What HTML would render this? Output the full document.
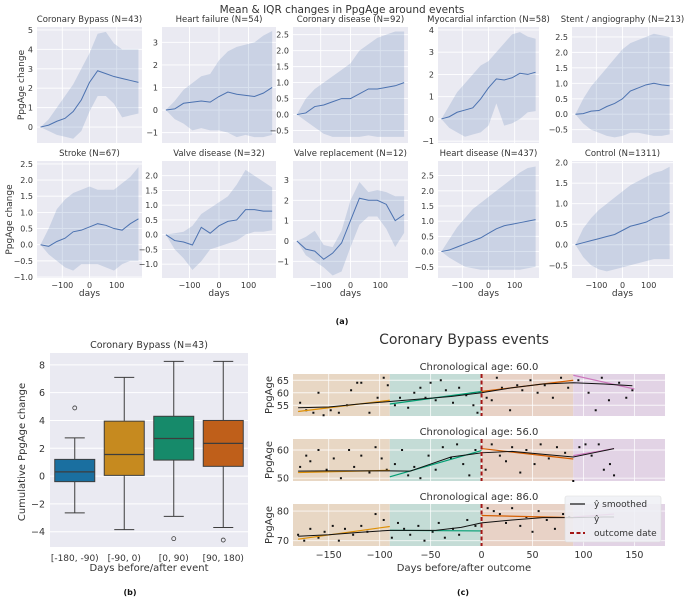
<!DOCTYPE html>
<html><head><meta charset="utf-8"><style>
html,body{margin:0;padding:0;background:#fff;}
svg{display:block;font-family:"DejaVu Sans","Liberation Sans",sans-serif;}
</style></head><body>
<svg id="fig" width="685" height="598" viewBox="0 0 685 598" xmlns="http://www.w3.org/2000/svg"></svg>
<script>
// ---------- Panel (a) data ----------
const days = [-180,-150,-120,-90,-60,-30,0,30,60,90,120,150,180];
const titles = ["Coronary Bypass (N=43)","Heart failure (N=54)","Coronary disease (N=92)","Myocardial infarction (N=58)","Stent / angiography (N=213)","Stroke (N=67)","Valve disease (N=32)","Valve replacement (N=12)","Heart disease (N=437)","Control (N=1311)"];
const means = [
[0,0.1,0.3,0.45,0.8,1.4,2.3,2.9,2.75,2.6,2.5,2.4,2.3],
[0,0.05,0.3,0.35,0.4,0.35,0.6,0.8,0.7,0.65,0.6,0.75,1.0],
[0,0.05,0.25,0.3,0.4,0.5,0.5,0.65,0.8,0.8,0.85,0.9,1.0],
[0,0.1,0.3,0.4,0.5,0.9,1.4,1.8,1.75,1.85,2.05,2.0,2.1],
[0,0.02,0.1,0.12,0.25,0.35,0.5,0.75,0.85,0.95,1.0,0.95,0.92],
[0,-0.05,0.1,0.2,0.4,0.45,0.55,0.65,0.6,0.5,0.45,0.65,0.8],
[0,-0.2,-0.25,-0.35,0.25,0.05,0.3,0.45,0.5,0.85,0.85,0.8,0.8],
[0,-0.4,-0.5,-0.9,-0.6,-0.1,1.0,2.1,2.0,2.0,1.8,1.0,1.3],
[0,0.05,0.15,0.25,0.35,0.45,0.6,0.75,0.85,0.9,0.95,1.0,1.05],
[0,0.05,0.1,0.15,0.2,0.25,0.35,0.45,0.5,0.55,0.65,0.7,0.8]];
const uppers = [
[0,0.4,1.0,1.6,2.2,3.0,3.8,4.8,4.9,4.3,4.0,4.0,4.0],
[0,0.4,0.9,1.2,1.5,1.6,2.2,2.6,2.8,2.9,3.0,3.3,3.5],
[0,0.5,0.8,1.0,1.2,1.4,1.6,2.0,2.2,2.4,2.5,2.6,2.6],
[0,0.6,1.2,1.6,2.0,2.4,2.6,3.0,3.4,3.8,3.9,3.7,3.6],
[0,0.5,0.9,1.2,1.5,1.8,2.1,2.3,2.4,2.5,2.6,2.55,2.5],
[0,0.5,1.1,1.4,1.6,1.7,1.8,1.7,1.7,1.7,1.9,2.1,2.4],
[0,0.05,0.1,0.3,0.7,0.9,1.1,1.3,1.7,2.2,2.0,1.8,1.6],
[0,0.2,0.5,-0.2,-0.3,0.5,2.0,2.9,2.4,2.5,2.4,2.2,2.2],
[0,0.4,0.8,1.1,1.4,1.6,1.8,2.0,2.2,2.4,2.6,2.75,2.8],
[0,0.4,0.65,0.85,1.0,1.15,1.3,1.45,1.55,1.65,1.75,1.8,1.9]];
const lowers = [
[0,-0.2,-0.4,-0.5,-0.6,-0.2,0.8,1.6,1.6,1.2,0.5,0.6,0.7],
[0,-0.4,-0.6,-0.9,-0.8,-0.9,-0.9,-1.0,-1.2,-1.1,-1.2,-1.2,-1.1],
[0,-0.2,-0.4,-0.6,-0.7,-0.7,-0.7,-0.7,-0.65,-0.7,-0.7,-0.7,-0.7],
[0,-0.4,-0.6,-0.8,-0.7,-0.6,-0.3,0.7,-0.3,-0.2,0.0,0.3,0.35],
[0,-0.3,-0.5,-0.6,-0.7,-0.75,-0.7,-0.6,-0.6,-0.65,-0.7,-0.7,-0.65],
[0,-0.3,-0.5,-0.7,-0.8,-0.6,-0.6,-0.6,-0.7,-0.8,-0.6,-0.5,-0.5],
[0,-0.5,-0.8,-1.2,-0.9,-0.5,-0.4,-0.3,-0.2,0.0,0.1,0.1,0.15],
[0,-0.7,-1.0,-1.3,-1.7,-1.5,-0.3,0.8,1.2,1.2,0.6,-0.3,0.4],
[0,-0.2,-0.35,-0.5,-0.55,-0.6,-0.6,-0.6,-0.6,-0.6,-0.6,-0.55,-0.5],
[0,-0.3,-0.5,-0.6,-0.65,-0.6,-0.55,-0.5,-0.45,-0.4,-0.35,-0.35,-0.35]];
const yticksA = [
[0,1,2,3,4,5],[-1,0,1,2,3],[-0.5,0,0.5,1,1.5,2,2.5],[-1,0,1,2,3,4],[-0.5,0,0.5,1,1.5,2,2.5],
[-1,-0.5,0,0.5,1,1.5,2,2.5],[-1,-0.5,0,0.5,1,1.5,2],[-1,0,1,2,3],[-0.5,0,0.5,1,1.5,2,2.5],[-0.5,0,0.5,1,1.5,2]];
const ytickLabelsA = [
["0","1","2","3","4","5"],["−1","0","1","2","3"],["−0.5","0.0","0.5","1.0","1.5","2.0","2.5"],["−1","0","1","2","3","4"],["−0.5","0.0","0.5","1.0","1.5","2.0","2.5"],
["−1.0","−0.5","0.0","0.5","1.0","1.5","2.0","2.5"],["−1.0","−0.5","0.0","0.5","1.0","1.5","2.0"],["−1","0","1","2","3"],["−0.5","0.0","0.5","1.0","1.5","2.0","2.5"],["−0.5","0.0","0.5","1.0","1.5","2.0"]];
const ylimsA = [[-0.82,5.15],[-1.46,3.68],[-0.89,2.74],[-1.08,4.13],[-0.93,2.82],[-1.03,2.59],[-1.47,2.5],[-1.82,3.93],[-0.87,2.98],[-0.81,2.04]];
const xticksA = [-100,0,100];
const xtickLabelsA = ["−100","0","100"];

// ---------- Panel (b) data ----------
const boxCats = ["[-180, -90)","[-90, 0)","[0, 90)","[90, 180)"];
const boxQ1 = [-0.4,0.05,1.15,0.7];
const boxMed = [0.3,1.55,2.7,2.35];
const boxQ3 = [1.2,3.95,4.3,4.0];
const boxLo = [-2.65,-3.85,-2.9,-3.7];
const boxHi = [2.75,7.1,8.25,8.25];
const boxOut = [[4.9],[],[-4.5],[-4.6]];
const yticksB = [-4,-2,0,2,4,6,8];
const ytickLabelsB = ["−4","−2","0","2","4","6","8"];

// ---------- Panel (c) data ----------
const subAges = ["60.0","56.0","86.0"];
const smoothDays = [
[-180,-150,-120,-90,-60,-30,0,30,60,90,120,148],
[-180,-150,-120,-90,-70,-50,-30,-10,0,30,60,90,110,130],
[-180,-150,-120,-90,-60,-45,-20,0,30,60,90,120,130]];
const smoothVals = [
[54,54.3,55.5,56.5,57.5,58.5,60,62,63.5,64,63.5,62.8],
[52.5,52.6,52.6,52.6,52.5,55,57.5,58.5,59,59.5,58.5,57.5,59,60.5],
[71.5,72,72.8,73.5,73.5,73.5,74.5,76,77,77.8,77.8,78,78]];
const segStart = [[-180,-90,0,90],[-180,-90,0,90],[-180,-90,0,90]];
const segEnd = [[-90,0,90,150],[-90,0,90,130],[-90,0,90,130]];
const segV0 = [[52.5,55.5,60.5,67],[52,50.5,60.5,58],[70.5,73.5,78.5,78]];
const segV1 = [[57,60.5,65,61.5],[52.8,59.8,56.8,60.5],[74.8,73.3,77.8,79]];
const scatter = [
[[-178,56],[-172,53],[-165,52],[-160,60],[-155,51],[-148,53],[-140,52],[-132,55],[-128,61],[-122,64],[-118,64],[-110,52],[-102,58],[-96,66],[-92,63],[-85,55],[-80,58],[-72,54],[-66,60],[-60,62],[-55,58],[-50,64],[-45,57],[-40,65],[-35,61],[-28,56],[-22,62],[-15,59],[-8,55],[-4,52],[5,58],[10,57],[15,66],[20,62],[28,53],[35,63],[40,61],[48,65],[55,60],[62,63],[70,58],[78,66],[85,62],[95,65],[105,60],[112,53],[118,66],[125,57],[135,64],[142,58],[148,61]],
[[-178,54],[-172,58],[-168,56],[-160,60],[-152,53],[-145,57],[-138,50],[-130,60],[-125,54],[-118,58],[-110,52],[-104,61],[-98,57],[-93,53],[-85,55],[-78,60],[-72,51],[-66,54],[-60,50],[-52,58],[-45,53],[-38,61],[-30,57],[-24,62],[-18,55],[-12,51],[-6,60],[4,53],[10,62],[18,58],[24,56],[30,61],[38,52],[44,60],[52,55],[58,62],[66,57],[74,61],[82,59],[90,49],[96,61],[102,62],[108,58],[115,62],[120,53],[126,55],[130,51]],
[[-180,72],[-174,70],[-168,74],[-160,71],[-154,73],[-146,75],[-140,70],[-134,74],[-126,72],[-118,75],[-112,73],[-104,79],[-96,77],[-88,71],[-82,76],[-76,74],[-70,72],[-62,75],[-56,70],[-48,73],[-42,76],[-36,71],[-28,74],[-22,72],[-14,77],[-6,75],[6,81],[12,80],[18,79],[24,76],[30,81],[38,75],[44,78],[50,73],[56,80],[64,77],[72,74],[80,79],[86,78]]];
const yticksC = [[55,60,65],[50,60],[70,80]];
const ylimsC = [[50.7,67.5],[49,63.9],[68.2,82.4]];
const xticksC = [-150,-100,-50,0,50,100,150];
const xtickLabelsC = ["−150","−100","−50","0","50","100","150"];

// ---------- drawing ----------
const NS = "http://www.w3.org/2000/svg";
const svg = document.getElementById('fig');
function mk(tag, attrs, parent, text){
  const e = document.createElementNS(NS, tag);
  for (const k in attrs) e.setAttribute(k, attrs[k]);
  if (text !== undefined) e.textContent = text;
  (parent || svg).appendChild(e);
  return e;
}
function lin(d0,d1,p0,p1){ return v => p0 + (v-d0)/(d1-d0)*(p1-p0); }

let t = mk('text',{x:342,y:13,'text-anchor':'middle','font-size':10.5,fill:'#333'},svg,"Mean & IQR changes in PpgAge around events");



const colX = [[37,142],[162,276],[293,408],[438,539],[572,673]];
const rowY = [[27,143],[161,278]];
for (let i=0;i<10;i++){
  const r = Math.floor(i/5), c = i%5;
  const [x0,x1] = colX[c], [y0,y1] = rowY[r];
  const sx = lin(-193,193,x0,x1), sy = lin(ylimsA[i][0],ylimsA[i][1],y1,y0);
  const g = mk('g',{});
  
  
  const bg = mk('rect',{x:x0,y:y0,width:x1-x0,height:y1-y0,fill:'#eaeaf2'},g);
  
  
  yticksA[i].forEach((v,j)=>{
    const y = sy(v);
    mk('line',{x1:x0,x2:x1,y1:y,y2:y,stroke:'#fff','stroke-width':0.9},g);
    const tl = mk('text',{x:x0-4,y:y+3,'text-anchor':'end','font-size':8,fill:'#333'},g,ytickLabelsA[i][j]);
    
    
  });
  xticksA.forEach((v,j)=>{
    const x = sx(v);
    mk('line',{x1:x,x2:x,y1:y0,y2:y1,stroke:'#fff','stroke-width':0.9},g);
    if (r===1){
      const tl = mk('text',{x:x,y:y1+10,'text-anchor':'middle','font-size':8,fill:'#333'},g,xtickLabelsA[j]);
      
      
    }
  });
  let band = days.map((d,k)=>sx(d)+','+sy(uppers[i][k])).join(' ') + ' ' +
             days.slice().reverse().map((d,k)=>sx(d)+','+sy(lowers[i][days.length-1-k])).join(' ');
  const bp = mk('polygon',{points:band,fill:'#4c72b0','fill-opacity':0.2},g);
  
  
  const ml = mk('polyline',{points:days.map((d,k)=>sx(d)+','+sy(means[i][k])).join(' '),fill:'none',stroke:'#4c72b0','stroke-width':1},g);
  
  
  const tt = mk('text',{x:(x0+x1)/2,y:y0-5,'text-anchor':'middle','font-size':8.5,fill:'#333'},g,titles[i]);
  
  
  if (r===1){
    const xl = mk('text',{x:(x0+x1)/2,y:296,'text-anchor':'middle','font-size':9,fill:'#333'},g,"days");
    
    
  }
  if (c===0){
    const cy=(y0+y1)/2, cx = r===0?24:12;
    const yl = mk('text',{x:cx,y:cy,'text-anchor':'middle','font-size':9,fill:'#333',transform:`rotate(-90 ${cx} ${cy})`},g,"PpgAge change");
    
    
  }
}
t = mk('text',{x:342,y:324,'text-anchor':'middle','font-size':8,'font-weight':'bold',fill:'#111'},svg,"(a)");



// Panel (b)
(function(){
  const x0=50,x1=248,y0=353,y1=547;
  const sy = lin(-5.1,8.85,y1,y0);
  const sx = k => x0 + (k+0.5)*(x1-x0)/4;
  const g = mk('g',{});
  
  
  mk('rect',{x:x0,y:y0,width:x1-x0,height:y1-y0,fill:'#eaeaf2'},g);
  yticksB.forEach((v,j)=>{
    const y=sy(v);
    mk('line',{x1:x0,x2:x1,y1:y,y2:y,stroke:'#fff','stroke-width':1},g);
    const tl = mk('text',{x:x0-5,y:y+3.5,'text-anchor':'end','font-size':9.5,fill:'#333'},g,ytickLabelsB[j]);
    
    
  });
  const cols = ['#1a6fa0','#c68a1f','#168a6a','#bf5f1a'];
  const bw = 40, cw = 20;
  boxCats.forEach((cat,k)=>{
    const cx = sx(k);
    const bg = mk('g',{},g);
    
    
    mk('line',{x1:cx,x2:cx,y1:sy(boxHi[k]),y2:sy(boxQ3[k]),stroke:'#3d3d3d','stroke-width':1},bg);
    mk('line',{x1:cx,x2:cx,y1:sy(boxQ1[k]),y2:sy(boxLo[k]),stroke:'#3d3d3d','stroke-width':1},bg);
    mk('line',{x1:cx-cw/2,x2:cx+cw/2,y1:sy(boxHi[k]),y2:sy(boxHi[k]),stroke:'#3d3d3d','stroke-width':1},bg);
    mk('line',{x1:cx-cw/2,x2:cx+cw/2,y1:sy(boxLo[k]),y2:sy(boxLo[k]),stroke:'#3d3d3d','stroke-width':1},bg);
    mk('rect',{x:cx-bw/2,y:sy(boxQ3[k]),width:bw,height:sy(boxQ1[k])-sy(boxQ3[k]),fill:cols[k],stroke:'#3d3d3d','stroke-width':1},bg);
    mk('line',{x1:cx-bw/2,x2:cx+bw/2,y1:sy(boxMed[k]),y2:sy(boxMed[k]),stroke:'#3d3d3d','stroke-width':1.2},bg);
    boxOut[k].forEach(o=>{
      const c = mk('circle',{cx:cx,cy:sy(o),r:2,fill:'none',stroke:'#3d3d3d','stroke-width':0.8},bg);
      
      
    });
    const tl = mk('text',{x:cx,y:y1+14,'text-anchor':'middle','font-size':9,fill:'#333'},g,cat);
    
    
  });
  let e = mk('text',{x:(x0+x1)/2,y:y0-5,'text-anchor':'middle','font-size':9.5,fill:'#333'},g,"Coronary Bypass (N=43)");
  
  
  e = mk('text',{x:(x0+x1)/2,y:571,'text-anchor':'middle','font-size':10,fill:'#333'},g,"Days before/after event");
  
  
  e = mk('text',{x:25,y:452,'text-anchor':'middle','font-size':10,fill:'#333',transform:'rotate(-90 25 452)'},g,"Cumulative PpgAge change");
  
  
  e = mk('text',{x:130,y:595,'text-anchor':'middle','font-size':8,'font-weight':'bold',fill:'#111'},g,"(b)");
  
  
})();

// Panel (c)
(function(){
  const x0=293,x1=665;
  const subY = [[374,416],[439,481],[504,546]];
  const sx = lin(-185,180,x0,x1);
  const regionB = [-185,-90,0,90,180];
  const regionCols = ['#e8d7c4','#c4dcd6','#e8d2c6','#e2d3e5'];
  const segCols = ['#de8f05','#029e73','#d55e00','#cc78bc'];
  let e = mk('text',{x:464,y:344,'text-anchor':'middle','font-size':14,fill:'#333'},svg,"Coronary Bypass events");
  
  
  for (let s=0;s<3;s++){
    const [y0,y1] = subY[s];
    const sy = lin(ylimsC[s][0],ylimsC[s][1],y1,y0);
    const g = mk('g',{});
    
    
    for (let k=0;k<4;k++){
      const rr = mk('rect',{x:sx(regionB[k]),y:y0,width:sx(regionB[k+1])-sx(regionB[k]),height:y1-y0,fill:regionCols[k]},g);
      
      
    }
    yticksC[s].forEach(v=>{
      const y=sy(v);
      mk('line',{x1:x0,x2:x1,y1:y,y2:y,stroke:'#fff','stroke-width':0.9,'stroke-opacity':0.8},g);
      const tl = mk('text',{x:x0-4,y:y+3.5,'text-anchor':'end','font-size':9.5,fill:'#333'},g,String(v));
      
      
    });
    xticksC.forEach(v=>{
      mk('line',{x1:sx(v),x2:sx(v),y1:y0,y2:y1,stroke:'#fff','stroke-width':0.9,'stroke-opacity':0.8},g);
    });
    scatter[s].forEach(p=>{
      const d = mk('rect',{x:sx(p[0])-1,y:sy(p[1])-1,width:2,height:2,fill:'#111'},g);
      
      
    });
    for (let k=0;k<4;k++){
      const l = mk('line',{x1:sx(segStart[s][k]),x2:sx(segEnd[s][k]),y1:sy(segV0[s][k]),y2:sy(segV1[s][k]),stroke:segCols[k],'stroke-width':1.2},g);
      
      
    }
    const sl = mk('polyline',{points:smoothDays[s].map((d,k)=>sx(d)+','+sy(smoothVals[s][k])).join(' '),fill:'none',stroke:'#111','stroke-width':1},g);
    
    
    const od = mk('line',{x1:sx(0),x2:sx(0),y1:y0,y2:y1,stroke:'#a31515','stroke-width':2,'stroke-dasharray':'4,2.5'},g);
    
    
    const st = mk('text',{x:(x0+x1)/2,y:y0-4,'text-anchor':'middle','font-size':10,fill:'#333'},g,"Chronological age: "+subAges[s]);
    
    
    const cy=(y0+y1)/2;
    const yl = mk('text',{x:272,y:cy,'text-anchor':'middle','font-size':10,fill:'#333',transform:`rotate(-90 272 ${cy})`},g,"PpgAge");
    
    
    if (s===2){
      xticksC.forEach((v,j)=>{
        const tl = mk('text',{x:sx(v),y:y1+12,'text-anchor':'middle','font-size':9.5,fill:'#333'},g,xtickLabelsC[j]);
        
        
      });
    }
  }
  const lg = mk('g',{});
  
  
  mk('rect',{x:565,y:496,width:96,height:46,rx:2,fill:'#eef0f5','fill-opacity':0.85,stroke:'#ddd','stroke-width':0.6},lg);
  mk('line',{x1:570,x2:585,y1:504,y2:504,stroke:'#111','stroke-width':1.2},lg);
  e = mk('text',{x:594,y:507,'font-size':9,fill:'#333'},lg,"ŷ smoothed");
  
  
  e = mk('text',{x:594,y:522,'font-size':9,fill:'#333'},lg,"ŷ");
  
  
  mk('line',{x1:570,x2:585,y1:533,y2:533,stroke:'#a31515','stroke-width':2,'stroke-dasharray':'4,2.5'},lg);
  e = mk('text',{x:594,y:536,'font-size':9,fill:'#333'},lg,"outcome date");
  
  
  e = mk('text',{x:464,y:571,'text-anchor':'middle','font-size':10,fill:'#333'},svg,"Days before/after outcome");
  
  
  e = mk('text',{x:463,y:595,'text-anchor':'middle','font-size':8,'font-weight':'bold',fill:'#111'},svg,"(c)");
  
  
})();
</script>
</body></html>
